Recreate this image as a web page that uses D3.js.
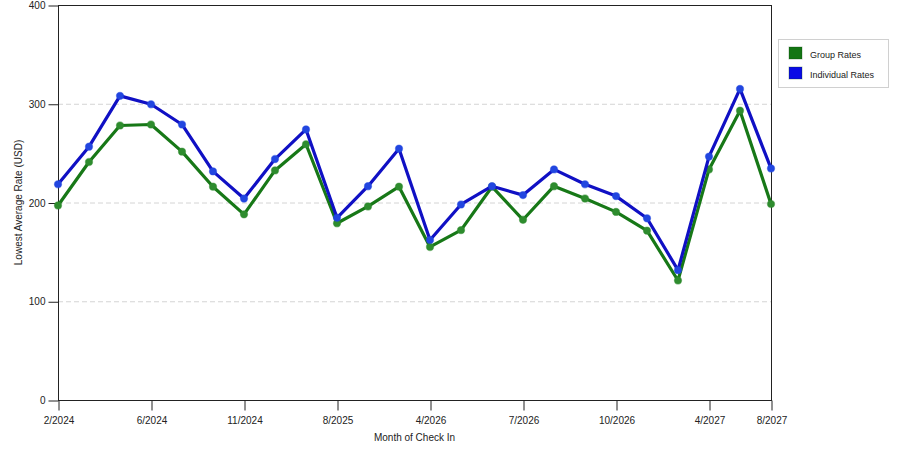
<!DOCTYPE html>
<html><head><meta charset="utf-8">
<script src="https://cdn.jsdelivr.net/npm/d3@7"></script>
<style>
body{margin:0;background:#fff;}
svg{display:block;font-family:"Liberation Sans",Arial,sans-serif;}
</style></head>
<body><svg id="c" width="900" height="450"></svg>
<script>
const months = ["2/2024","3/2024","5/2024","6/2024","7/2024","9/2024","11/2024","12/2024","2/2025","8/2025","10/2025","1/2026","4/2026","5/2026","6/2026","7/2026","8/2026","9/2026","10/2026","11/2026","12/2026","4/2027","6/2027","8/2027"];
const tickLabels = ["2/2024","6/2024","11/2024","8/2025","4/2026","7/2026","10/2026","4/2027","8/2027"];
const groupRates = [197,241,278,279,251.5,216,188,232.5,259,179,196,216,155,172,216,182.5,216.5,204,190.5,171.5,121,233.5,293,198.5];
const individualRates = [218.5,256.5,308,299.5,279,231.5,204,244,274,184.5,216.5,254.5,162,198,216.5,207.5,233.5,218.5,206.5,184,131.5,246.5,315,234.5];
const yTicks = [0,100,200,300,400];
const seriesNames = ["Group Rates","Individual Rates"];

const svg = d3.select("#c");
const L=58,R=771,T=5,B=400;
const x = d3.scalePoint().domain(months).range([L,R]);
const y = d3.scaleLinear().domain([0,400]).range([B,T]);

// grid
svg.append("g").selectAll("line").data([100,200,300]).join("line")
  .attr("x1",L).attr("x2",R).attr("y1",d=>y(d)+0.5).attr("y2",d=>y(d)+0.5)
  .attr("stroke","#d4d4d4").attr("stroke-dasharray","5,3");

// frame
svg.append("rect").attr("x",L+0.5).attr("y",T+0.5).attr("width",R-L).attr("height",B-T)
  .attr("fill","none").attr("stroke","#222");

// y axis
const ya = svg.append("g").attr("transform",`translate(${L+0.5},0.5)`)
  .call(d3.axisLeft(y).tickValues(yTicks).tickSize(10).tickPadding(3).tickFormat(d3.format("d")));
ya.select(".domain").remove();
ya.selectAll("line").attr("stroke","#222");
ya.selectAll("text").attr("font-size","10px").attr("fill","#222").attr("font-family","Liberation Sans, Arial, sans-serif");

// x axis
const xa = svg.append("g").attr("transform",`translate(0.5,${B+0.5})`)
  .call(d3.axisBottom(x).tickValues(tickLabels).tickSize(10).tickPadding(6));
xa.select(".domain").remove();
xa.selectAll("line").attr("stroke","#222");
xa.selectAll("text").attr("font-size","10px").attr("fill","#222").attr("font-family","Liberation Sans, Arial, sans-serif");

// axis titles
svg.append("text").attr("x",(L+R)/2).attr("y",441).attr("text-anchor","middle")
  .attr("font-size","10px").attr("fill","#222").text("Month of Check In");
svg.append("text").attr("transform",`translate(22,${(T+B)/2}) rotate(-90)`).attr("text-anchor","middle")
  .attr("font-size","10px").attr("fill","#222").text("Lowest Average Rate (USD)");

const series = [
  {name:seriesNames[0], values:groupRates, line:"#177817", fill:"#2e8c2e", sw:"#137513"},
  {name:seriesNames[1], values:individualRates, line:"#1010c4", fill:"#2246e0", sw:"#0a0ae6"}
];
const lineGen = d3.line().x((d,i)=>x(months[i])).y(d=>y(d));
series.forEach(s=>{
  svg.append("path").datum(s.values).attr("d",lineGen).attr("fill","none")
    .attr("stroke",s.line).attr("stroke-width",3.2).attr("stroke-linejoin","round");
  svg.append("g").selectAll("circle").data(s.values).join("circle")
    .attr("cx",(d,i)=>x(months[i])).attr("cy",d=>y(d)).attr("r",3.6)
    .attr("fill",s.fill).attr("stroke",s.fill).attr("stroke-opacity",0.45).attr("stroke-width",1.2);
});

// legend
const lg = svg.append("g");
lg.append("rect").attr("x",778.5).attr("y",39.5).attr("width",110).attr("height",48)
  .attr("fill","#fff").attr("stroke","#d0d0d0");
series.forEach((s,i)=>{
  lg.append("rect").attr("x",789).attr("y",47+i*20).attr("width",13).attr("height",12)
    .attr("fill",s.sw).attr("stroke","#0a3a0a").attr("stroke-opacity",0.3);
  lg.append("text").attr("x",810).attr("y",57.5+i*20).attr("font-size","9px").attr("fill","#222").text(s.name);
});
</script></body></html>
